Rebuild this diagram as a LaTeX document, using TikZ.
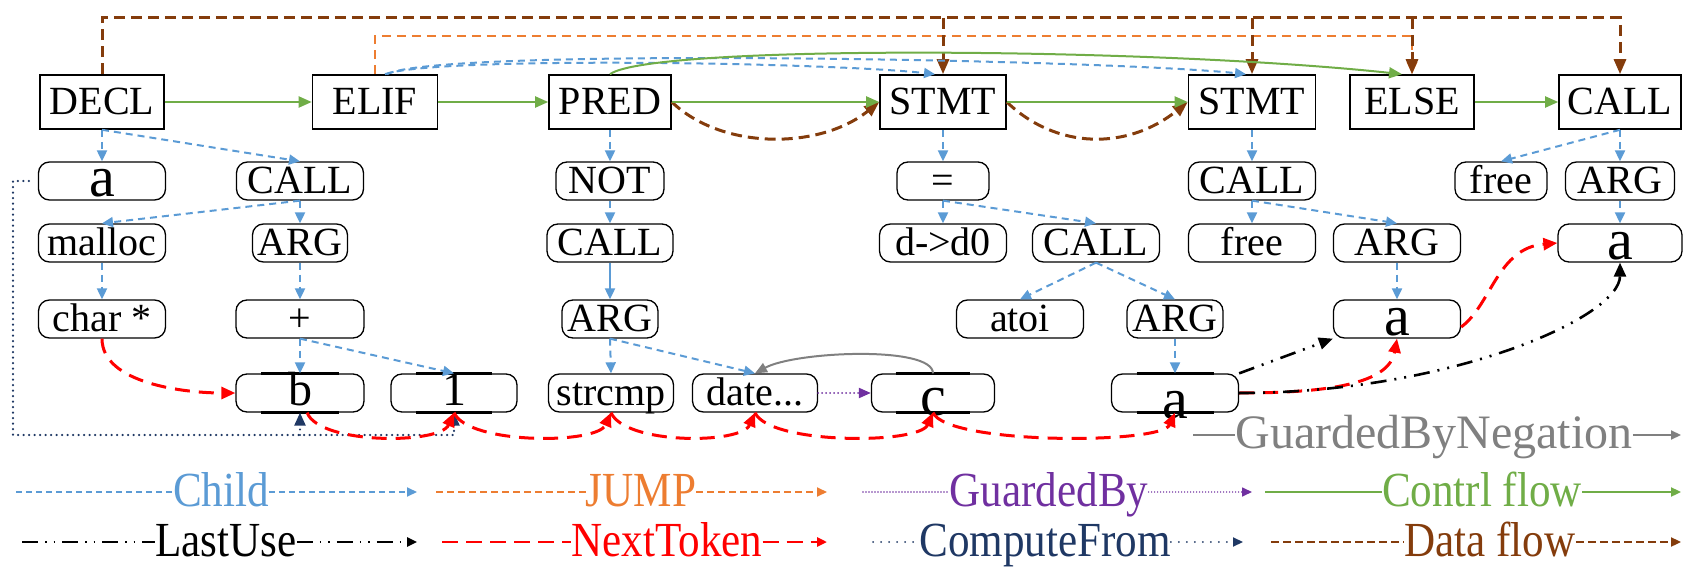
\documentclass[tikz,border=0pt]{standalone}
\usepackage{fontspec}
\setmainfont{Liberation Serif}
\newfontfamily\legfont{Liberation Serif}[FakeStretch=0.88]
\usetikzlibrary{arrows.meta,calc}

\definecolor{cChild}{RGB}{91,155,213}
\definecolor{cJump}{RGB}{237,125,49}
\definecolor{cCtrl}{RGB}{112,173,71}
\definecolor{cData}{RGB}{132,60,12}
\definecolor{cNext}{RGB}{255,0,0}
\definecolor{cComp}{RGB}{31,56,100}
\definecolor{cGuard}{RGB}{112,48,160}
\definecolor{cNeg}{RGB}{128,128,128}

% variable token: size, drop of the baseline below the centre, glyph
\newcommand{\vartok}[3]{\raisebox{-#2pt}[0pt][0pt]{\fontsize{#1}{#1}\selectfont #3}}

% heavy marks on the top and bottom edges of a variable token
\newcommand{\tokbars}[1]{%
  \draw[line width=3.2pt] ($(#1.north west)!0.2!(#1.north east)$) -- ($(#1.north west)!0.8!(#1.north east)$);
  \draw[line width=3.2pt] ($(#1.south west)!0.2!(#1.south east)$) -- ($(#1.south west)!0.8!(#1.south east)$);}

% legend entry: name, text colour, line style, text x, baseline, line y, line start, line end, text
\newcommand{\legitem}[9]{%
  \node[legtext, text=#2] (#1) at (#4,#5) {#9};
  \coordinate (#1a) at (#7,#6);
  \coordinate (#1b) at (#8,#6);
  \draw[#3,-] (#1a) -- (#1a -| #1.west);
  \draw[#3] (#1b -| #1.east) -- (#1b);}

\tikzset{
  stmtbox/.style={draw, line width=1.6pt, minimum height=54pt, inner sep=0pt,
    font=\fontsize{40}{42}\selectfont, text height=26pt, text depth=0pt},
  ast/.style={draw, line width=1.3pt, rounded corners=11pt, minimum height=38pt, inner sep=0pt,
    font=\fontsize{40}{42}\selectfont, text height=28pt, text depth=3pt},
  tok/.style={draw, line width=1.3pt, rounded corners=11pt, minimum height=38pt, inner sep=0pt},
  child/.style={draw=cChild, line width=2pt, dash pattern=on 7pt off 5pt, -{Triangle[length=11pt,width=10pt]}},
  childsolid/.style={draw=cChild, line width=2pt, -{Triangle[length=11pt,width=10pt]}},
  ctrl/.style={draw=cCtrl, line width=2pt, -{Triangle[length=13pt,width=11pt]}},
  data/.style={draw=cData, line width=3pt, dash pattern=on 11pt off 6pt, -{Triangle[length=15pt,width=12pt]}},
  jump/.style={draw=cJump, line width=2.5pt, dash pattern=on 9pt off 6pt, -{Triangle[length=12pt,width=10pt]}},
  next/.style={draw=cNext, line width=3pt, dash pattern=on 15pt off 9pt, -{Triangle[length=14pt,width=12pt]}},
  last/.style={draw=black, line width=2.6pt, dash pattern=on 16pt off 8pt on 2pt off 8pt on 2pt off 8pt, -{Triangle[length=14pt,width=12pt]}},
  comp/.style={draw=cComp, line width=2.4pt, line cap=round, dash pattern=on 0pt off 5.5pt, -{Triangle[length=13pt,width=11pt]}},
  guard/.style={draw=cGuard, line width=2pt, line cap=round, dash pattern=on 0pt off 4pt, -{Triangle[length=12pt,width=10pt]}},
  neg/.style={draw=cNeg, line width=2pt, -{Triangle[length=12pt,width=10pt]}},
  legtext/.style={font=\legfont\fontsize{49}{51}\selectfont, inner sep=0pt, anchor=base},
  negtext/.style={font=\fontsize{48}{50}\selectfont, inner sep=0pt, anchor=base},
  lchild/.style={draw=cChild, line width=2pt, dash pattern=on 6pt off 4pt, -{Triangle[length=10pt,width=9pt]}},
  ljump/.style={draw=cJump, line width=2pt, dash pattern=on 7pt off 4pt, -{Triangle[length=10pt,width=9pt]}},
  lguard/.style={draw=cGuard, line width=1.6pt, line cap=round, dash pattern=on 0pt off 3pt, -{Triangle[length=10pt,width=9pt]}},
  lctrl/.style={draw=cCtrl, line width=2.2pt, -{Triangle[length=10pt,width=9pt]}},
  llast/.style={draw=black, line width=2.4pt, dash pattern=on 16pt off 7pt on 1.5pt off 7pt on 1.5pt off 7pt, -{Triangle[length=10pt,width=9pt]}},
  lnext/.style={draw=cNext, line width=2.6pt, dash pattern=on 16pt off 8pt, -{Triangle[length=10pt,width=9pt]}},
  lcomp/.style={draw=cComp, line width=2pt, line cap=round, dash pattern=on 0pt off 8pt, -{Triangle[length=10pt,width=9pt]}},
  ldata/.style={draw=cData, line width=2.2pt, dash pattern=on 8pt off 4pt, -{Triangle[length=10pt,width=9pt]}},
  lneg/.style={draw=cNeg, line width=2pt, -{Triangle[length=10pt,width=9pt]}},
}

\begin{document}
\begin{tikzpicture}[x=1pt,y=-1pt]
\useasboundingbox (0,0) rectangle (1683,569);

% statement row
\node[stmtbox,minimum width=124pt] (DECL)    at (102,102)  {DECL};
\node[stmtbox,minimum width=125pt] (ELIF)    at (375,102)  {ELIF};
\node[stmtbox,minimum width=122pt] (PRED)    at (610,102)  {PRED};
\node[stmtbox,minimum width=126pt] (STMTa)   at (943,102)  {STMT};
\node[stmtbox,minimum width=127pt] (STMTb)   at (1252,102) {STMT};
\node[stmtbox,minimum width=124pt] (ELSE)    at (1412,102) {ELSE};
\node[stmtbox,minimum width=122pt] (CALLtop) at (1620,102) {CALL};

% AST nodes
\node[tok,minimum width=127pt] (a1)    at (102,181)  {\vartok{58}{16}{a}};
\node[ast,minimum width=127pt] (callA) at (300,181)  {CALL};
\node[ast,minimum width=108pt] (not)   at (610,181)  {NOT};
\node[ast,minimum width=92pt]  (eq)    at (943,181)  {=};
\node[ast,minimum width=127pt] (callB) at (1252,181) {CALL};
\node[ast,minimum width=92pt]  (freeA) at (1501,181) {free};
\node[ast,minimum width=109pt] (argA)  at (1620,181) {ARG};

\node[ast,minimum width=127pt] (malloc) at (102,243)  {malloc};
\node[ast,minimum width=95pt]  (argB)   at (300,243)  {ARG};
\node[ast,minimum width=126pt] (callC)  at (610,243)  {CALL};
\node[ast,minimum width=127pt] (dd)     at (943,243)  {d->d0};
\node[ast,minimum width=127pt] (callD)  at (1096,243) {CALL};
\node[ast,minimum width=127pt] (freeB)  at (1252,243) {free};
\node[ast,minimum width=127pt] (argC)   at (1397,243) {ARG};
\node[tok,minimum width=124pt] (a3)     at (1620,243) {\vartok{58}{17}{a}};

\node[ast,minimum width=127pt] (char) at (102,319)  {char *};
\node[ast,minimum width=128pt] (plus) at (300,319)  {+};
\node[ast,minimum width=96pt]  (argD) at (610,319)  {ARG};
\node[ast,minimum width=127pt] (atoi) at (1020,319) {atoi};
\node[ast,minimum width=96pt]  (argE) at (1175,319) {ARG};
\node[tok,minimum width=127pt] (a4)   at (1397,319) {\vartok{58}{17}{a}};

\node[tok,minimum width=128pt] (b)      at (300,393)  {\vartok{48}{12}{b}};
\node[tok,minimum width=126pt] (one)    at (454,393)  {\vartok{48}{12}{1}};
\node[ast,minimum width=125pt] (strcmp) at (611,393)  {strcmp};
\node[ast,minimum width=125pt] (date)   at (755,393)  {date...};
\node[tok,minimum width=123pt] (c)      at (933,393)  {\vartok{58}{22}{c}};
\node[tok,minimum width=127pt] (abot)   at (1175,393) {\vartok{58}{25}{a}};

\tokbars{b}
\tokbars{one}
\tokbars{c}
\tokbars{abot}

% jump and data flow over the statements
\coordinate (jy) at (0,36);
\coordinate (dfy) at (0,18);
\draw[jump] (ELIF.north) -- (ELIF.north |- jy) -| (ELSE.north);
\draw[data] (DECL.north) -- (DECL.north |- dfy) -| (CALLtop.north);
\draw[data] (dfy -| STMTa.north) -- (STMTa.north);
\draw[data] (dfy -| STMTb.north) -- (STMTb.north);
\draw[data] (dfy -| ELSE.north) -- (ELSE.north);
\draw[data] (PRED.east) .. controls +(50,48) and +(-60,48) .. (STMTa.west);
\draw[data] (STMTa.east) .. controls +(50,48) and +(-60,48) .. (STMTb.west);

% children of the elif reached over the top
\draw[child] ($(ELIF.north)+(10,0)$) .. controls +(50,-18) and +(-110,-12) .. ($(STMTa.north)+(-8,0)$);
\draw[child] ($(ELIF.north)+(12,0)$) .. controls +(50,-27) and +(-145,-15) .. ($(STMTb.north)+(-6,0)$);

% control flow
\draw[ctrl] (DECL) -- (ELIF);
\draw[ctrl] (ELIF) -- (PRED);
\draw[ctrl] (PRED) -- (STMTa);
\draw[ctrl] (STMTa) -- (STMTb);
\draw[ctrl] (ELSE) -- (CALLtop);
\draw[ctrl] (PRED.north) .. controls +(41,-30) and +(-252,-27) .. ($(ELSE.north)+(-10,0)$);

% AST children
\draw[child] (DECL.south) -- (a1.north);
\draw[child] (DECL.south) -- (callA.north);
\draw[child] (callA.south) -- (malloc.north);
\draw[child] (callA.south) -- (argB.north);
\draw[child] (malloc.south) -- (char.north);
\draw[child] (argB.south) -- (plus.north);
\draw[child] (plus.south) -- (b.north);
\draw[child] (plus.south) -- (one.north);
\draw[child] (PRED.south) -- (not.north);
\draw[child] (not.south) -- (callC.north);
\draw[childsolid] (callC.south) -- (argD.north);
\draw[child] (argD.south) -- (strcmp.north);
\draw[child] (argD.south) -- (date.north);
\draw[child] (STMTa.south) -- (eq.north);
\draw[child] (eq.south) -- (dd.north);
\draw[child] (eq.south) -- (callD.north);
\draw[child] (callD.south) -- (atoi.north);
\draw[child] (callD.south) -- (argE.north);
\draw[child] (argE.south) -- (abot.north);
\draw[child] (STMTb.south) -- (callB.north);
\draw[child] (callB.south) -- (freeB.north);
\draw[child] (callB.south) -- (argC.north);
\draw[child] (argC.south) -- (a4.north);
\draw[child] (CALLtop.south) -- (freeA.north);
\draw[child] (CALLtop.south) -- (argA.north);
\draw[child] (argA.south) -- (a3.north);

% compute-from
\coordinate (cfy) at (13,435);
\draw[comp] ([xshift=-9pt]a1.west) -| (cfy) -- (cfy -| one.south) -- (one.south);
\draw[comp] (cfy -| b.south) -- (b.south);

% next token chain
\draw[next] (char.south) .. controls +(0,45) and +(-50,0) .. (b.west);
\draw[next] (b.-70) .. controls +(12,32) and +(-14,32) .. (one.south);
\draw[next] (one.south) .. controls +(14,32) and +(-14,32) .. (strcmp.south);
\draw[next] (strcmp.south) .. controls +(14,32) and +(-14,32) .. (date.south);
\draw[next] (date.south) .. controls +(14,32) and +(-14,32) .. (c.south);
\draw[next] (c.south) .. controls +(14,32) and +(-14,32) .. (abot.south);
\draw[next] (abot.east) .. controls +(90,0) and +(-8,45) .. (a4.south);
\draw[next] ($(a4.east)+(0,8)$) .. controls +(30,-22) and +(-60,5) .. (a3.west);

% last use
\draw[last] (abot.north east) -- (a4.south west);
\draw[last] (abot.east) .. controls +(210,0) and +(0,55) .. (a3.south);

% guards
\draw[guard] (date.east) -- (c.west);
\draw[neg] (c.north) .. controls +(0,-28) and +(40,-22) .. (date.north);

% legend
\node[negtext, text=cNeg] (lgNeg) at (1434,448) {GuardedByNegation};
\coordinate (lgNega) at (1193,435);
\coordinate (lgNegb) at (1681,435);
\draw[lneg,-] (lgNega) -- (lgNega -| lgNeg.west);
\draw[lneg] (lgNegb -| lgNeg.east) -- (lgNegb);
\legitem{lgChild}{cChild}{lchild}{221}{506}{492}{16}{417}{Child}
\legitem{lgJump}{cJump}{ljump}{641}{506}{492}{436}{827}{JUMP}
\legitem{lgGuard}{cGuard}{lguard}{1049}{506}{492}{863}{1252}{GuardedBy}
\legitem{lgCtrl}{cCtrl}{lctrl}{1482}{506}{492}{1265}{1681}{Contrl flow}
\legitem{lgLast}{black}{llast}{226}{556}{542}{22}{417}{LastUse}
\legitem{lgNext}{cNext}{lnext}{667}{556}{542}{442}{827}{NextToken}
\legitem{lgComp}{cComp}{lcomp}{1045}{556}{542}{873}{1243}{ComputeFrom}
\legitem{lgData}{cData}{ldata}{1490}{556}{542}{1271}{1681}{Data flow}
\end{tikzpicture}
\end{document}
